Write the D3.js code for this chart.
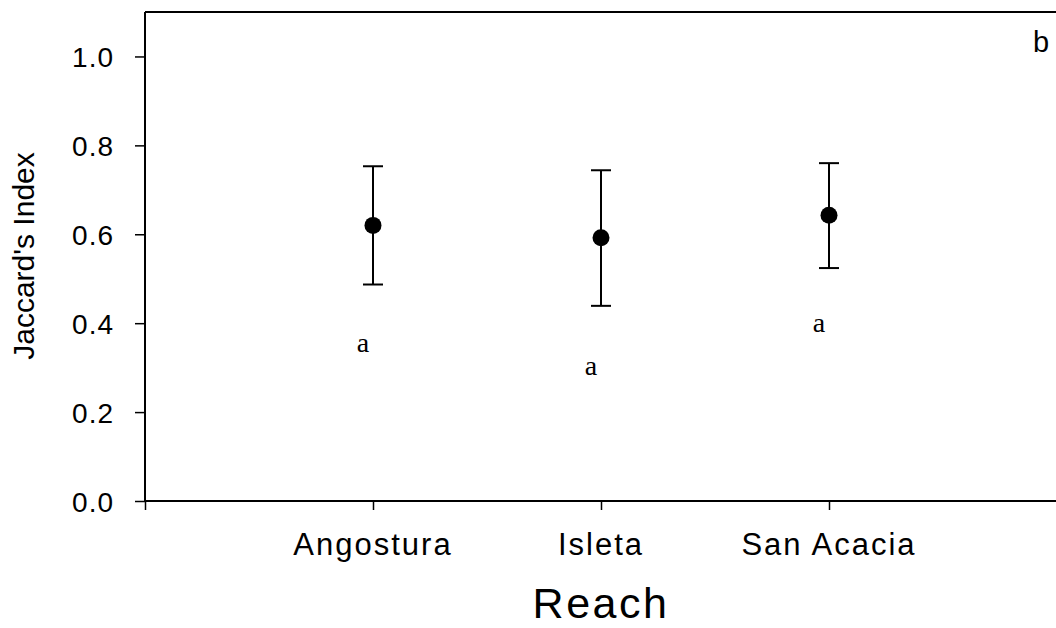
<!DOCTYPE html>
<html>
<head>
<meta charset="utf-8">
<script src="https://cdn.jsdelivr.net/npm/d3@7"></script>
<style>
  html, body { margin: 0; padding: 0; background: #fff; }
  svg { display: block; }
  text { font-family: "Liberation Sans", Arial, Helvetica, sans-serif; fill: #000; }
</style>
</head>
<body>
<svg id="chart" width="1056" height="628"></svg>
<script>
// Reaches along the river and mean Jaccard's index with error bounds
const reaches = ["Angostura", "Isleta", "San Acacia"];
const means = [0.620, 0.592, 0.643];
const upper = [0.753, 0.744, 0.760];
const lower = [0.487, 0.439, 0.524];
// Significance group letters and the height at which they sit
const groupLetters = ["a", "a", "a"];
const letterY = [0.335, 0.283, 0.38];
const yTicks = [0.0, 0.2, 0.4, 0.6, 0.8, 1.0];

const svg = d3.select("#chart");
const plotLeft = 145, plotRight = 1057, plotTop = 12, plotBottom = 501;

const x = d3.scaleLinear().domain([0, reaches.length + 1]).range([plotLeft, plotRight]);
const y = d3.scaleLinear().domain([0, 1.1]).range([plotBottom, plotTop]);

// Frame: left axis, bottom axis and top border
const frame = svg.append("g").attr("stroke", "#000").attr("stroke-width", 2).attr("fill", "none");
frame.append("line").attr("x1", plotLeft).attr("x2", plotLeft).attr("y1", plotTop).attr("y2", plotBottom);
frame.append("line").attr("x1", plotLeft).attr("x2", plotRight).attr("y1", plotBottom).attr("y2", plotBottom);
frame.append("line").attr("x1", plotLeft).attr("x2", plotRight).attr("y1", plotTop).attr("y2", plotTop);

// Y axis
const yAxis = d3.axisLeft(y).tickValues(yTicks).tickFormat(d3.format(".1f")).tickSize(10).tickPadding(21);
const gy = svg.append("g").attr("transform", `translate(${plotLeft},0)`).call(yAxis);
gy.select(".domain").remove();
gy.selectAll(".tick line").attr("stroke", "#000").attr("stroke-width", 1.5);
gy.selectAll(".tick text")
  .style("font-family", "'Liberation Sans', Arial, sans-serif")
  .style("font-size", "28px").style("letter-spacing", "1px")
  .attr("fill", "#000").attr("dy", "0.36em");

// X axis ticks: one at the axis origin plus one per reach
const xTickVals = [0].concat(reaches.map((d, i) => i + 1));
const xAxis = d3.axisBottom(x).tickValues(xTickVals).tickSize(9).tickFormat("");
const gx = svg.append("g").attr("transform", `translate(0,${plotBottom})`).call(xAxis);
gx.select(".domain").remove();
gx.selectAll(".tick line").attr("stroke", "#000").attr("stroke-width", 1.5);

// Reach labels
svg.append("g").selectAll("text").data(reaches).join("text")
  .attr("x", (d, i) => x(i + 1))
  .attr("y", 555)
  .attr("text-anchor", "middle")
  .style("font-size", "31px")
  .style("letter-spacing", "2px")
  .text(d => d);

// Error bars
const capHalf = 10;
const bars = svg.append("g").attr("stroke", "#000").attr("stroke-width", 2);
reaches.forEach((r, i) => {
  const cx = x(i + 1);
  bars.append("line").attr("x1", cx).attr("x2", cx).attr("y1", y(upper[i])).attr("y2", y(lower[i]));
  bars.append("line").attr("x1", cx - capHalf).attr("x2", cx + capHalf).attr("y1", y(upper[i])).attr("y2", y(upper[i]));
  bars.append("line").attr("x1", cx - capHalf).attr("x2", cx + capHalf).attr("y1", y(lower[i])).attr("y2", y(lower[i]));
});

// Mean markers
svg.append("g").selectAll("circle").data(means).join("circle")
  .attr("cx", (d, i) => x(i + 1))
  .attr("cy", d => y(d))
  .attr("r", 8.5)
  .attr("fill", "#000");

// Group letters
svg.append("g").selectAll("text").data(groupLetters).join("text")
  .attr("x", (d, i) => x(i + 1) - 10)
  .attr("y", (d, i) => y(letterY[i]))
  .attr("text-anchor", "middle")
  .style("font-family", "'Liberation Serif', 'Times New Roman', serif")
  .style("font-size", "28px")
  .text(d => d);

// Panel letter
svg.append("text").attr("x", 1041).attr("y", 52).attr("text-anchor", "middle")
  .style("font-size", "29px").text("b");

// Axis titles
svg.append("text")
  .attr("transform", "translate(34,256) rotate(-90)")
  .attr("text-anchor", "middle")
  .style("font-size", "30px")
  .text("Jaccard's Index");

svg.append("text")
  .attr("x", 601).attr("y", 618)
  .attr("text-anchor", "middle")
  .style("font-size", "43px")
  .style("letter-spacing", "2.5px")
  .text("Reach");
</script>
</body>
</html>
